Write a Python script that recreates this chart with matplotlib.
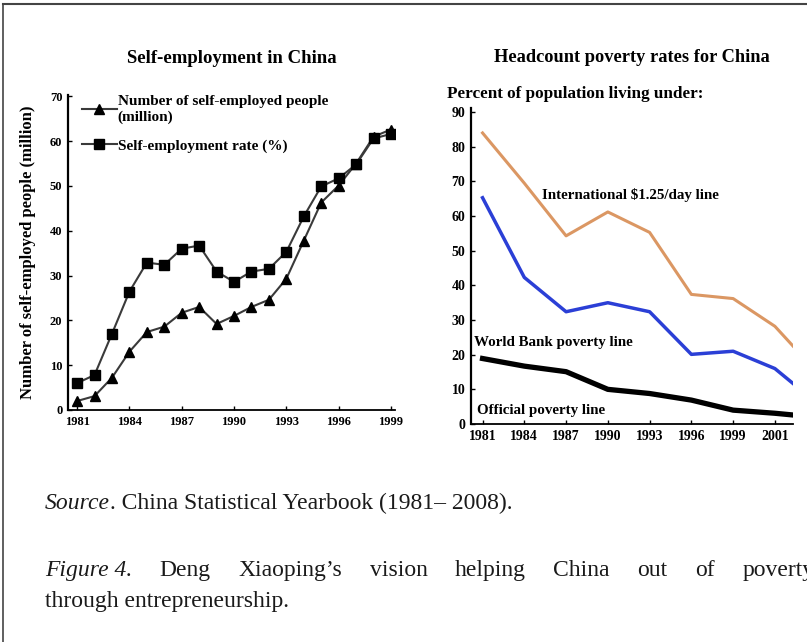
import numpy as np
import matplotlib
matplotlib.use('Agg')
import matplotlib.pyplot as plt
from matplotlib.lines import Line2D

plt.rcParams['font.family'] = ['Liberation Serif', 'DejaVu Serif']

# self-employment data (left panel)
years = list(range(1981, 2000))
selfemp_people = [2.0, 3.1, 7.2, 13.0, 17.4, 18.6, 21.7, 23.0, 19.2, 21.0,
                  23.0, 24.6, 29.3, 37.8, 46.3, 50.1, 55.0, 61.0, 62.6]
selfemp_rate = [6.0, 7.8, 17.0, 26.4, 32.9, 32.4, 36.0, 36.7, 30.9, 28.6,
                30.9, 31.5, 35.3, 43.2, 49.9, 51.7, 54.8, 60.6, 61.6]
left_ticks = [1981, 1984, 1987, 1990, 1993, 1996, 1999]

# poverty data (right panel)
pov_years = [1981, 1984, 1987, 1990, 1993, 1996, 1999, 2002, 2003.3]
pov_tick_labels = ['1981', '1984', '1987', '1990', '1993', '1996', '1999', '2001']
intl_line = [84.0, 69.5, 54.3, 61.2, 55.3, 37.4, 36.2, 28.2, 22.5]
worldbank_line = [65.3, 42.3, 32.4, 35.0, 32.4, 20.1, 21.0, 16.0, 11.7]
official_line = [18.9, 16.7, 15.1, 10.0, 8.8, 6.9, 4.0, 3.1, 2.6]

W, H = 807, 642
fig = plt.figure(figsize=(W / 100, H / 100), dpi=100)


def box(l, t, r, b):
    return [l / W, 1 - b / H, (r - l) / W, (b - t) / H]


# ---- left panel ----
ax1 = fig.add_axes(box(68, 95, 395, 410))
grey = '#3a3a3a'
ax1.plot(years, selfemp_people, color=grey, lw=1.5, marker='^', ms=6.5,
         mfc='black', mec='black', label='Number of self-employed people\n(million)')
ax1.plot(years, selfemp_rate, color=grey, lw=1.5, marker='s', ms=6.5,
         mfc='black', mec='black', label='Self-employment rate (%)')
ax1.set_xlim(1980.48, 1999.23)
ax1.set_ylim(0, 70.3)
ax1.set_xticks(left_ticks)
ax1.set_yticks(range(0, 71, 10))
ax1.set_title('Self-employment in China', fontsize=13.5, fontweight='bold', pad=23)
ax1.set_ylabel('Number of self-employed people (million)', fontsize=12,
               fontweight='bold', labelpad=10)
leg = ax1.legend(loc='upper left', bbox_to_anchor=(0.0, 1.043), frameon=False,
                 handlelength=2.3, handletextpad=0.05, labelspacing=0.95,
                 prop={'weight': 'bold', 'size': 11})
for t in leg.get_texts():
    t.set_linespacing(1.25)

# ---- right panel ----
ax2 = fig.add_axes(box(471, 108, 793, 424))
ax2.plot(pov_years, intl_line, color='#db9763', lw=2.2, solid_joinstyle='round')
ax2.plot(pov_years, worldbank_line, color='#2b3fd6', lw=2.5, solid_joinstyle='round')
ax2.plot(pov_years, official_line, color='black', lw=3.8, solid_joinstyle='round')
ax2.set_xlim(1980.17, 2003.3)
ax2.set_ylim(0, 91.2)
ax2.set_xticks(pov_years[:8])
ax2.set_xticklabels(pov_tick_labels)
ax2.set_yticks(range(0, 91, 10))
ax2.set_title('Headcount poverty rates for China', fontsize=13.2, fontweight='bold', pad=33)
ax2.text(-0.075, 1.018, 'Percent of population living under:', transform=ax2.transAxes,
         fontsize=12.3, fontweight='bold', va='bottom')
ax2.text(1985.3, 66, r'International \$1.25/day line', fontsize=10.8,
         fontweight='bold', va='center')
ax2.text(1980.35, 23.6, 'World Bank poverty line', fontsize=10.8,
         fontweight='bold', va='center')
ax2.text(1980.6, 4.0, 'Official poverty line', fontsize=10.8,
         fontweight='bold', va='center')

for ax, lsize in ((ax1, 9), (ax2, 10)):
    ax.spines['top'].set_visible(False)
    ax.spines['right'].set_visible(False)
    ax.spines['left'].set_linewidth(1.6)
    ax.spines['bottom'].set_linewidth(1.3)
    ax.tick_params(direction='in', length=3, width=1, labelsize=lsize, pad=4)
    for lab in ax.get_xticklabels() + ax.get_yticklabels():
        lab.set_fontweight('bold')

# ---- frame lines ----
fig.add_artist(Line2D([3 / W, 3 / W], [0, 1 - 4 / H], color='#444444', lw=1.2))
fig.add_artist(Line2D([3 / W, 1], [1 - 4 / H, 1 - 4 / H], color='#444444', lw=1.5))

# ---- caption (text runs left to right, word gap as in the justified page) ----
fig.canvas.draw()
renderer = fig.canvas.get_renderer()
cap_size = 17


def put_run(x, y, parts, gap=0):
    for txt, style in parts:
        t = fig.text(x / W, 1 - y / H, txt, fontsize=cap_size, style=style,
                     va='baseline', ha='left', color='#1a1a1a')
        x += t.get_window_extent(renderer).width + gap
    return x


put_run(45, 509, [('Source', 'italic'), ('. China Statistical Yearbook (1981– 2008).', 'normal')])

words = [('Figure 4.', 'italic'), ('Deng', 'normal'), ('Xiaoping’s', 'normal'),
         ('vision', 'normal'), ('helping', 'normal'), ('China', 'normal'),
         ('out', 'normal'), ('of', 'normal'), ('poverty', 'normal')]
put_run(45, 576, words, gap=27.5)

put_run(45, 607, [('through entrepreneurship.', 'normal')])

fig.savefig('out.png', dpi=100)
